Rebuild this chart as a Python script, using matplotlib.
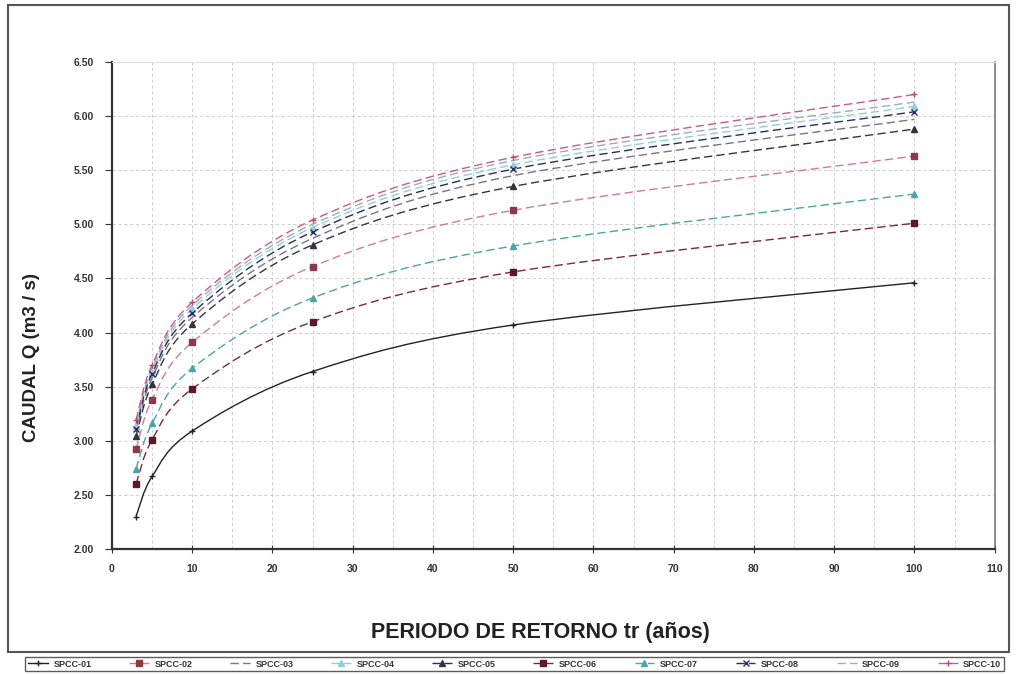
import matplotlib
matplotlib.use('Agg')
import matplotlib.pyplot as plt
import numpy as np
from matplotlib.path import Path
from matplotlib.patches import PathPatch, Rectangle
from matplotlib.lines import Line2D

plt.rcParams['font.family'] = ['Liberation Sans', 'DejaVu Sans']

# periodo de retorno (anos)
tr = [3, 5, 10, 25, 50, 100]

# caudales por estacion (m3/s)
q01 = [2.30, 2.67, 3.09, 3.64, 4.07, 4.46]
q02 = [2.92, 3.38, 3.91, 4.61, 5.13, 5.63]
q03 = [3.08, 3.58, 4.14, 4.87, 5.45, 5.97]
q04 = [3.14, 3.64, 4.22, 4.97, 5.55, 6.09]
q05 = [3.04, 3.52, 4.08, 4.81, 5.35, 5.88]
q06 = [2.60, 3.01, 3.48, 4.10, 4.56, 5.01]
q07 = [2.74, 3.16, 3.67, 4.32, 4.80, 5.28]
q08 = [3.11, 3.62, 4.18, 4.93, 5.51, 6.04]
q09 = [3.16, 3.67, 4.25, 5.00, 5.59, 6.13]
q10 = [3.19, 3.70, 4.28, 5.04, 5.62, 6.20]

names = ['SPCC-01', 'SPCC-02', 'SPCC-03', 'SPCC-04', 'SPCC-05',
         'SPCC-06', 'SPCC-07', 'SPCC-08', 'SPCC-09', 'SPCC-10']
series = [q01, q02, q03, q04, q05, q06, q07, q08, q09, q10]

colors = ['#222222', '#d27a98', '#777777', '#8fd0d0', '#333344',
          '#7a2a3a', '#4aa6a6', '#2a2a66', '#a0aabb', '#c85a88']
markers = ['+', 's', 'none', '^', '^', 's', '^', 'x', 'none', '+']
mcolors = ['#222222', '#8a3a4a', '#777777', '#8fd0d0', '#333344',
           '#5a1a2a', '#4aa6a6', '#2a2a66', '#a0aabb', '#b04a78']
lstyles = ['-', (0, (6, 3)), (0, (6, 3)), (0, (6, 3)), (0, (6, 3)),
           (0, (6, 3)), (0, (6, 3)), (0, (6, 3)), (0, (6, 3)), (0, (6, 3))]


def smooth_path(xs, ys):
    # curva suavizada tipo Excel (bezier por los puntos)
    pts = np.column_stack([xs, ys]).astype(float)
    n = len(pts)
    verts = [pts[0]]
    codes = [Path.MOVETO]
    for i in range(n - 1):
        p0 = pts[max(i - 1, 0)]
        p1 = pts[i]
        p2 = pts[i + 1]
        p3 = pts[min(i + 2, n - 1)]
        verts += [p1 + (p2 - p0) / 6, p2 - (p3 - p1) / 6, p2]
        codes += [Path.CURVE4] * 3
    return Path(verts, codes)


fig = plt.figure(figsize=(10.16, 6.74), dpi=100)
ax = fig.add_axes([0.1102, 0.1855, 0.8688, 0.7225])

handles = []
for q, c, m, mc, ls in zip(series, colors, markers, mcolors, lstyles):
    ax.add_patch(PathPatch(smooth_path(tr, q), fill=False, edgecolor=c,
                           lw=1.0, linestyle=ls, zorder=3))
    ax.plot(tr, q, ls='none', marker=m, ms=4, color=mc, mew=1.0, zorder=4)
    handles.append(Line2D([], [], color=c, lw=1.0, linestyle=ls, marker=m,
                          ms=4, markeredgecolor=mc, markerfacecolor=mc))

ax.set_xlim(0, 110)
ax.set_ylim(2.0, 6.5)
ax.set_xticks(np.arange(0, 111, 10))
ax.set_xticks(np.arange(5, 110, 10), minor=True)
ax.set_yticks(np.arange(2.0, 6.51, 0.5))
ax.set_yticklabels(['%.2f' % v for v in np.arange(2.0, 6.51, 0.5)])
ax.grid(which='both', color='#c8c8c8', ls=(0, (4, 3)), lw=0.6, zorder=0)
ax.set_axisbelow(True)

ax.tick_params(axis='x', which='major', direction='inout', length=6,
               labelsize=7.5, pad=8, colors='#333333')
ax.tick_params(axis='x', which='minor', length=0)
ax.tick_params(axis='y', direction='out', length=5, labelsize=7.5, pad=8,
               colors='#333333')
for lab in ax.get_xticklabels() + ax.get_yticklabels():
    lab.set_fontweight('bold')

for side in ['left', 'bottom']:
    ax.spines[side].set_color('#333333')
    ax.spines[side].set_linewidth(1.6)
ax.spines['right'].set_color('#777777')
ax.spines['right'].set_linewidth(1.2)
ax.spines['top'].set_color('#dddddd')
ax.spines['top'].set_linewidth(0.8)

fig.text(0.031, 0.47, 'CAUDAL Q (m3 / s)', rotation=90, ha='center',
         va='center', fontsize=13.5, fontweight='bold', color='#222222')
fig.text(0.532, 0.061, 'PERIODO DE RETORNO tr (años)', ha='center',
         va='center', fontsize=15.5, fontweight='bold', color='#222222')

leg = fig.legend(handles, names, loc='lower left', ncol=10,
                 bbox_to_anchor=(0.025, 0.004, 0.963, 0.028), mode='expand',
                 fontsize=6.5, frameon=True, fancybox=False, handlelength=2.2,
                 handletextpad=0.6, borderpad=0.3, columnspacing=1.0,
                 borderaxespad=0)
leg.get_frame().set_edgecolor('#333333')
leg.get_frame().set_linewidth(1.0)
for t in leg.get_texts():
    t.set_fontweight('bold')
    t.set_color('#333333')

# marco exterior
fig.patches.append(Rectangle((0.008, 0.032), 0.985, 0.96,
                             transform=fig.transFigure, fill=False,
                             edgecolor='#555555', lw=1.5))

fig.savefig('out.png', dpi=100)
